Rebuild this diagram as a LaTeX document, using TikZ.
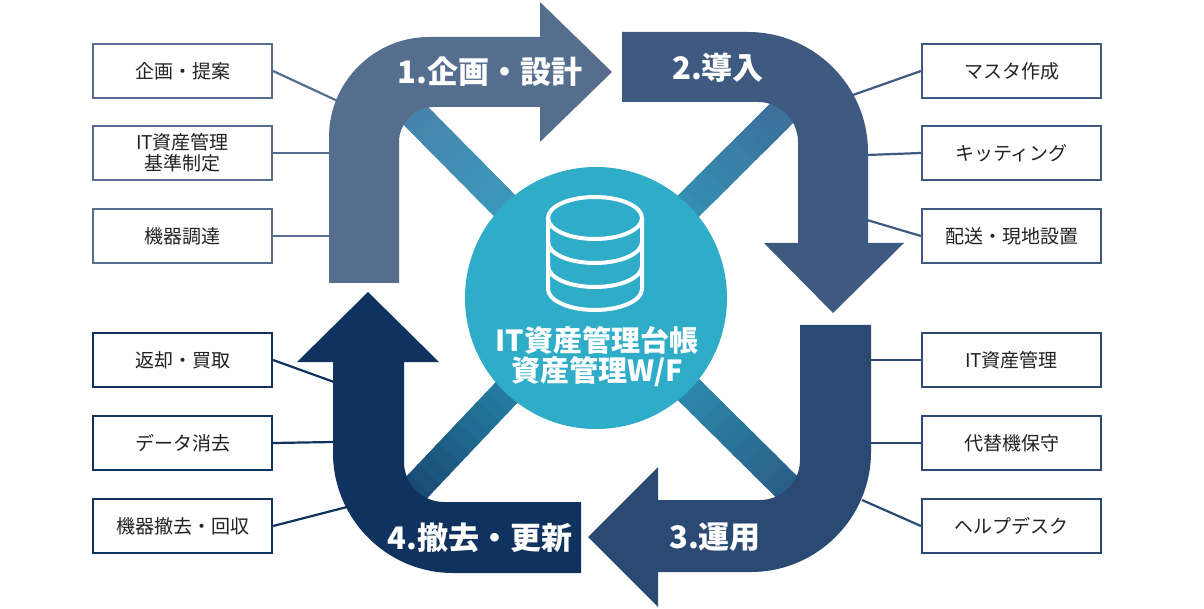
\documentclass[tikz,border=0pt]{standalone}
\usepackage{fontspec}
\setmainfont{Noto Sans CJK JP}
\usetikzlibrary{calc}
\definecolor{aA}{HTML}{566E8E}
\definecolor{aB}{HTML}{3E5A80}
\definecolor{aC}{HTML}{2A4A74}
\definecolor{aD}{HTML}{10325F}
\definecolor{teal}{HTML}{2EACC8}
\definecolor{txt}{HTML}{222222}
\begin{document}
\begin{tikzpicture}[x=1pt,y=-1pt,
  box/.style={draw,line width=2.2pt,fill=white,minimum width=179pt,minimum height=54pt,inner sep=1pt,align=center,text=txt,font=\fontsize{19}{22}\selectfont},
  lnk/.style={line width=2.2pt},
  lab/.style={text=white,font=\bfseries\fontsize{31}{34}\selectfont},
  icon/.style={draw=white,line width=4pt}]
\useasboundingbox (0,0) rectangle (1204,609);
\fill[white] (0,0) rectangle (1204,609);
% diagonals
\coordinate (c) at (596,298);
\coordinate (tl) at (405,105);
\coordinate (tr) at (795,100);
\coordinate (br) at (805,505);
\coordinate (bl) at (400,505);
\foreach \e/\col in {tl/4A80AA,tr/3C6A96,br/2A5580,bl/17406C}{
  \definecolor{ec}{HTML}{\col}
  \foreach \i in {0,...,19}{
    \pgfmathsetmacro{\a}{\i/20}\pgfmathsetmacro{\b}{(\i+1.3)/20}
    \pgfmathtruncatemacro{\p}{100-5*\i}
    \draw[line width=30pt,teal!\p!ec] ($(c)!\a!(\e)$) -- ($(c)!\b!(\e)$);
  }
}
% arrows
\fill[aA] (329,283) -- (329,137) .. controls (329,82) and (374,37) .. (429,37) -- (540,37) -- (540,2) -- (612,72) -- (540,142) -- (540,107) -- (434,107) .. controls (415,107) and (399,123) .. (399,142) -- (399,283) -- cycle;
\fill[aB] (622,32) -- (748,32) .. controls (814,32) and (868,86) .. (868,152) -- (868,243) -- (904,243) -- (833,313) -- (764,243) -- (798,243) -- (798,142) .. controls (798,120) and (780,102) .. (758,102) -- (622,102) -- cycle;
\fill[aC] (800,325) -- (871,325) -- (871,452) .. controls (871,518) and (817,572) .. (751,572) -- (658,572) -- (658,607) -- (588,537) -- (658,467) -- (658,500) -- (760,500) .. controls (782,500) and (800,482) .. (800,460) -- cycle;
\fill[aD] (581,502) -- (581,573) -- (453,573) .. controls (387,573) and (333,519) .. (333,453) -- (333,362) -- (297,362) -- (368,292) -- (439,362) -- (404,362) -- (404,462) .. controls (404,484) and (422,502) .. (444,502) -- cycle;
\node[lab] (l1) at (490,72) {1.企画・設計};
\node[lab] (l2) at (718,68) {2.導入};
\node[lab] (l3) at (715,537) {3.運用};
\node[lab] (l4) at (480,538) {4.撤去・更新};
% circle
\node[circle,fill=teal,minimum size=262pt,inner sep=0pt] (hub) at (596,298) {};
\draw[icon] (595,218) ellipse [x radius=47,y radius=21];
\draw[icon] (548,218) -- (548,289) arc[start angle=180,end angle=0,x radius=47,y radius=21] -- (642,218);
\draw[icon] (548,242) arc[start angle=180,end angle=0,x radius=47,y radius=21];
\draw[icon] (548,266) arc[start angle=180,end angle=0,x radius=47,y radius=21];
\node[text=white,font=\bfseries\fontsize{29}{32}\selectfont,align=center] (ht) at (597,357) {IT資産管理台帳\\[-2pt]資産管理W/F};
% boxes
\node[box,draw=aA] (b1) at (182.5,71) {企画・提案};
\node[box,draw=aA,font=\fontsize{19}{21}\selectfont] (b2) at (182.5,153) {IT資産管理\\基準制定};
\node[box,draw=aA] (b3) at (182.5,236) {機器調達};
\node[box,draw=aD] (b4) at (182.5,360) {返却・買取};
\node[box,draw=aD] (b5) at (182.5,443) {データ消去};
\node[box,draw=aD] (b6) at (182.5,526) {機器撤去・回収};
\node[box,draw=aB] (c1) at (1011.5,71) {マスタ作成};
\node[box,draw=aB] (c2) at (1011.5,153) {キッティング};
\node[box,draw=aB] (c3) at (1011.5,236) {配送・現地設置};
\node[box,draw=aC] (c4) at (1011.5,360) {IT資産管理};
\node[box,draw=aC] (c5) at (1011.5,443) {代替機保守};
\node[box,draw=aC] (c6) at (1011.5,526) {ヘルプデスク};
\coordinate (p1) at (342,103); \coordinate (p2) at (330,153); \coordinate (p3) at (330,236);
\coordinate (p4) at (334,382); \coordinate (p5) at (334,442); \coordinate (p6) at (347,507);
\coordinate (q1) at (853,95); \coordinate (q2) at (867,155); \coordinate (q3) at (867,220);
\coordinate (q4) at (870,360); \coordinate (q5) at (870,443); \coordinate (q6) at (862,500);
\draw[lnk,aA] (b1.east) -- (p1); \draw[lnk,aA] (b2.east) -- (p2); \draw[lnk,aA] (b3.east) -- (p3);
\draw[lnk,aD] (b4.east) -- (p4); \draw[lnk,aD] (b5.east) -- (p5); \draw[lnk,aD] (b6.east) -- (p6);
\draw[lnk,aB] (c1.west) -- (q1); \draw[lnk,aB] (c2.west) -- (q2); \draw[lnk,aB] (c3.west) -- (q3);
\draw[lnk,aC] (c4.west) -- (q4); \draw[lnk,aC] (c5.west) -- (q5); \draw[lnk,aC] (c6.west) -- (q6);
\end{tikzpicture}
\end{document}
